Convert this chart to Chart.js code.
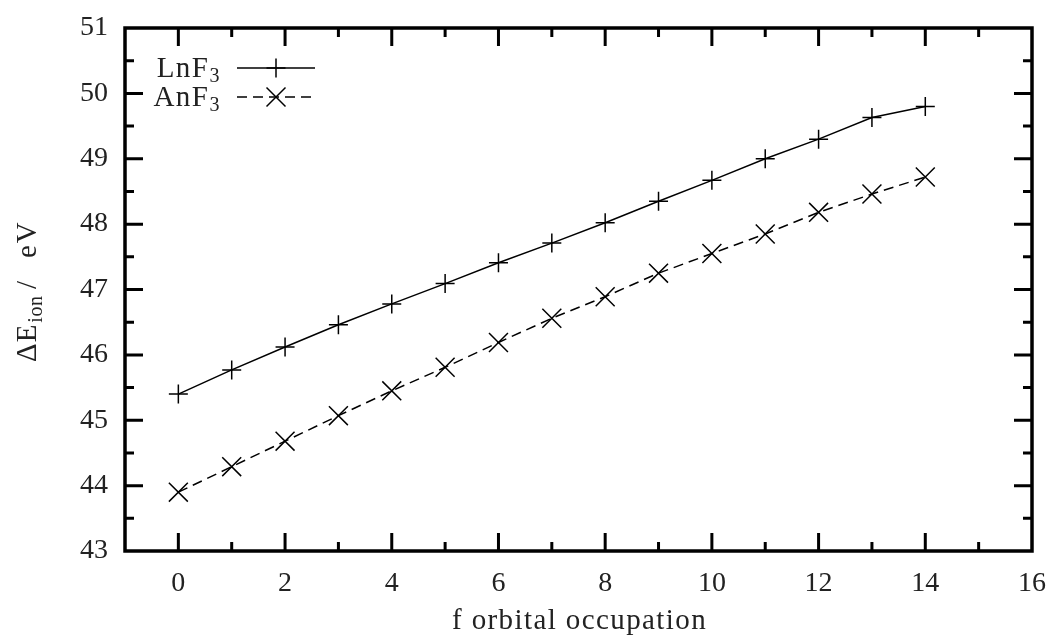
<!DOCTYPE html>
<html>
<head>
<meta charset="utf-8">
<script src="https://cdn.jsdelivr.net/npm/chart.js@4.4.1/dist/chart.umd.min.js"></script>
<style>
  html, body { margin: 0; padding: 0; background: #fff; }
  #wrap { width: 1055px; height: 640px; position: relative; }
</style>
</head>
<body>
<div id="wrap"><canvas id="c"></canvas></div>
<script>
const occupation = [0,1,2,3,4,5,6,7,8,9,10,11,12,13,14];
const lnF3 = [45.40,45.77,46.12,46.46,46.78,47.09,47.41,47.71,48.02,48.35,48.67,49.00,49.30,49.63,49.80];
const anF3 = [43.90,44.29,44.68,45.07,45.45,45.81,46.19,46.56,46.89,47.25,47.55,47.85,48.18,48.46,48.72];
const xTickValues = [-1,0,1,2,3,4,5,6,7,8,9,10,11,12,13,14,15,16];
const yTickValues = [43,44,45,46,47,48,49,50,51];
const xTitle = "f orbital occupation";
const yTitleMain = "ΔE";
const yTitleSub = "ion";
const yTitleSlash = "/";
const yTitleUnit = "eV";
const seriesNames = [["LnF", "3"], ["AnF", "3"]];

const FONT = '"Liberation Serif", "DejaVu Serif", serif';
const TXT = '#222';
const TICK = 28, BIG = 29, SMALL = 20;

function toPts(xs, ys) { return xs.map((x, i) => ({x: x, y: ys[i]})); }

const framePlugin = {
  id: 'frame',
  afterDatasetsDraw(chart) {
    const ctx = chart.ctx;
    const a = chart.chartArea;
    const xs = chart.scales.x, ys = chart.scales.y;
    ctx.save();
    ctx.strokeStyle = '#000';
    ctx.lineWidth = 3;
    ctx.lineCap = 'butt';
    xTickValues.forEach(v => {
      if (v <= xs.min || v >= xs.max) return;
      const px = xs.getPixelForValue(v);
      const len = (v % 2 === 0) ? 18 : 9;
      ctx.beginPath();
      ctx.moveTo(px, a.bottom); ctx.lineTo(px, a.bottom - len);
      ctx.moveTo(px, a.top); ctx.lineTo(px, a.top + len);
      ctx.stroke();
    });
    for (let v = ys.min; v <= ys.max; v += 0.5) {
      if (v <= ys.min || v >= ys.max) continue;
      const py = ys.getPixelForValue(v);
      const len = (Math.abs(v - Math.round(v)) < 1e-6) ? 18 : 9;
      ctx.beginPath();
      ctx.moveTo(a.left, py); ctx.lineTo(a.left + len, py);
      ctx.moveTo(a.right, py); ctx.lineTo(a.right - len, py);
      ctx.stroke();
    }
    ctx.lineWidth = 3.5;
    ctx.strokeRect(a.left, a.top, a.right - a.left, a.bottom - a.top);

    const bigF = BIG + 'px ' + FONT, smF = SMALL + 'px ' + FONT;

    // x title
    ctx.fillStyle = TXT;
    ctx.font = bigF;
    ctx.letterSpacing = '1.4px';
    ctx.textAlign = 'center';
    ctx.textBaseline = 'alphabetic';
    ctx.fillText(xTitle, (a.left + a.right) / 2 + 1, 629);

    // y title (rotated), pieces positioned along the axis
    ctx.save();
    ctx.translate(36, 362);
    ctx.rotate(-Math.PI / 2);
    ctx.textAlign = 'left';
    ctx.letterSpacing = '1px';
    ctx.font = bigF; ctx.fillText(yTitleMain, 0, 0);
    const wM = ctx.measureText(yTitleMain).width;
    ctx.font = smF; ctx.letterSpacing = '0.5px'; ctx.fillText(yTitleSub, wM + 1, 6);
    ctx.font = bigF; ctx.letterSpacing = '0px';
    ctx.textAlign = 'center'; ctx.fillText(yTitleSlash, 77, 0);
    ctx.textAlign = 'left'; ctx.letterSpacing = '2px'; ctx.fillText(yTitleUnit, 104, 0);
    ctx.restore();

    // legend
    const rows = [68, 97];
    chart.data.datasets.forEach((ds, i) => {
      const y = rows[i];
      const [main, sub] = seriesNames[i];
      ctx.letterSpacing = '1.5px';
      ctx.font = smF; const ws = ctx.measureText(sub).width;
      ctx.font = bigF; const wm = ctx.measureText(main).width;
      const right = 221;
      ctx.fillStyle = TXT;
      ctx.textAlign = 'left';
      ctx.textBaseline = 'alphabetic';
      ctx.font = bigF; ctx.fillText(main, right - ws - wm, y + 9);
      ctx.font = smF; ctx.fillText(sub, right - ws, y + 14);
      ctx.letterSpacing = '0px';
      ctx.strokeStyle = '#000';
      ctx.lineWidth = 1.5;
      ctx.setLineDash(ds.borderDash || []);
      ctx.beginPath(); ctx.moveTo(237, y); ctx.lineTo(315, y); ctx.stroke();
      ctx.setLineDash([]);
      const mx = 276, r = 9.5;
      ctx.beginPath();
      if (ds.pointStyle === 'cross') {
        ctx.moveTo(mx - r, y); ctx.lineTo(mx + r, y);
        ctx.moveTo(mx, y - r); ctx.lineTo(mx, y + r);
      } else {
        ctx.moveTo(mx - r, y - r); ctx.lineTo(mx + r, y + r);
        ctx.moveTo(mx - r, y + r); ctx.lineTo(mx + r, y - r);
      }
      ctx.stroke();
    });
    ctx.restore();
  }
};

function noPad(s) { s.paddingLeft = 0; s.paddingRight = 0; s.paddingTop = 0; s.paddingBottom = 0; }

new Chart(document.getElementById('c'), {
  type: 'scatter',
  data: {
    datasets: [
      {
        label: 'LnF3',
        data: toPts(occupation, lnF3),
        showLine: true,
        borderColor: '#000',
        backgroundColor: '#000',
        borderWidth: 1.5,
        pointStyle: 'cross',
        pointRadius: 9.5,
        pointBorderWidth: 1.5,
        pointBorderColor: '#000',
        tension: 0
      },
      {
        label: 'AnF3',
        data: toPts(occupation, anF3),
        showLine: true,
        borderColor: '#000',
        backgroundColor: '#000',
        borderWidth: 1.5,
        borderDash: [10, 6],
        pointStyle: 'crossRot',
        pointRadius: 13.4,
        pointBorderWidth: 1.5,
        pointBorderColor: '#000',
        tension: 0
      }
    ]
  },
  options: {
    responsive: true,
    maintainAspectRatio: false,
    animation: false,
    devicePixelRatio: 1,
    layout: { padding: { top: 28, right: 23, left: 0, bottom: 0 } },
    plugins: { legend: { display: false }, tooltip: { enabled: false } },
    scales: {
      x: {
        type: 'linear',
        min: -1, max: 16,
        afterFit(s) { s.height = 89; noPad(s); },
        afterBuildTicks(s) { s.ticks = xTickValues.map(v => ({value: v})); },
        grid: { display: false, drawTicks: false },
        border: { display: false },
        ticks: {
          autoSkip: false,
          maxRotation: 0,
          padding: 16,
          color: TXT,
          font: { family: FONT, size: TICK },
          callback: v => (v >= 0 && v % 2 === 0) ? String(v) : ''
        }
      },
      y: {
        type: 'linear',
        min: 43, max: 51,
        afterFit(s) { s.width = 125; noPad(s); },
        afterBuildTicks(s) { s.ticks = yTickValues.map(v => ({value: v})); },
        grid: { display: false, drawTicks: false },
        border: { display: false },
        ticks: {
          padding: 17,
          color: TXT,
          font: { family: FONT, size: TICK },
          callback: v => String(v)
        }
      }
    }
  },
  plugins: [framePlugin]
});
</script>
</body>
</html>
